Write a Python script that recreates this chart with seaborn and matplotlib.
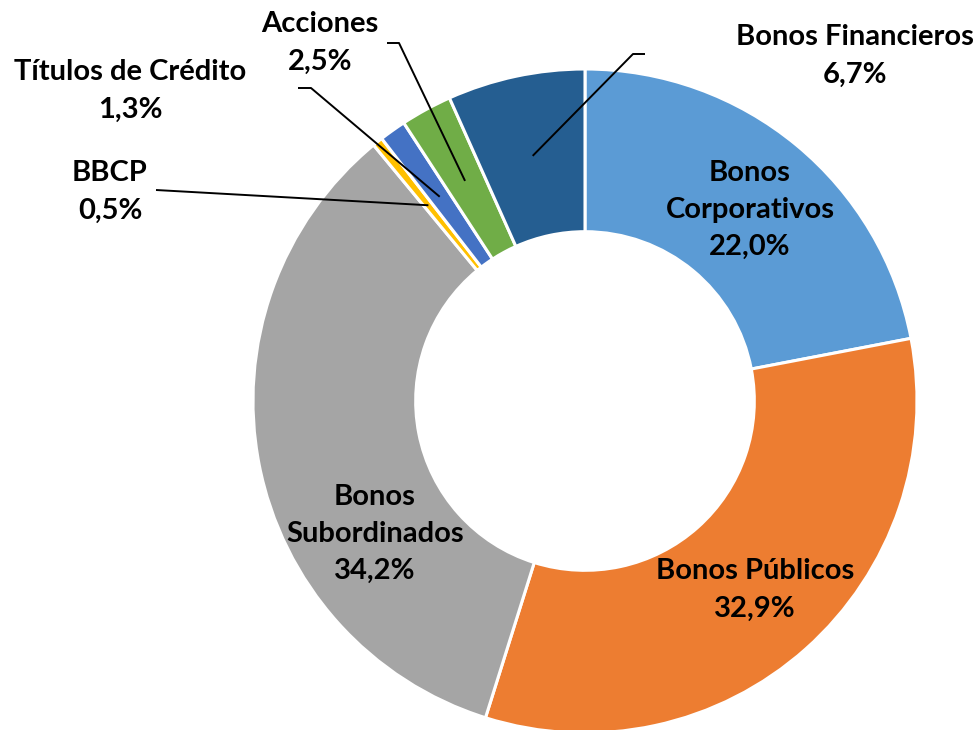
import numpy as np
import matplotlib
matplotlib.use("Agg")
import matplotlib.pyplot as plt
import seaborn as sns

# data (clockwise from 12 o'clock)
categories = ["Bonos\nCorporativos", "Bonos Públicos", "Bonos\nSubordinados", "BBCP",
              "Títulos de Crédito", "Acciones", "Bonos Financieros"]
shares = [22.0, 32.9, 34.2, 0.5, 1.3, 2.5, 6.7]
colors = ["#5B9BD5", "#ED7D31", "#A5A5A5", "#FFC000", "#4472C4", "#70AD47", "#255E91"]

sns.set_theme(style="white")
plt.rcParams["font.family"] = ["Lato", "DejaVu Sans"]

W, H = 980, 730
CX, CY, R = 585, 401, 332


def px(x, y):
    # pixel position -> data units of the pie
    return (x - CX) / R, (CY - y) / R


fig = plt.figure(figsize=(W / 100, H / 100), dpi=100)
ax = fig.add_axes([0, 0, 1, 1])
wedges, _ = ax.pie(shares, colors=colors, startangle=90, counterclock=False,
                   radius=1, wedgeprops=dict(width=0.49, edgecolor="white", linewidth=2.2))
ax.set_xlim(px(0, 0)[0], px(W, 0)[0])
ax.set_ylim(px(0, H)[1], px(0, 0)[1])
ax.set_aspect("equal")
ax.axis("off")

fs = 21
txt = dict(ha="center", va="center", fontsize=fs, fontweight="bold",
           linespacing=1.54, color="black")

# inside labels
inside = {0: (750, 210), 1: (755, 590), 2: (375, 534)}
for i, (x, y) in inside.items():
    ax.text(*px(x, y), f"{categories[i]}\n{shares[i]:.1f}%".replace(".", ","), **txt)

# outside labels with leader lines: text centre, elbow, elbow end
outside = {
    6: ((855, 56), (633, 54), (645, 54)),
    5: ((320, 43), (399, 43), (387, 43)),
    4: ((130, 91), (311, 88), (298, 88)),
    3: ((110, 192), (156, 190), (156, 190)),
}
for i, (tpos, elbow, end) in outside.items():
    w = wedges[i]
    ang = np.deg2rad((w.theta1 + w.theta2) / 2)
    ax0, ay0 = 0.755 * np.cos(ang), 0.755 * np.sin(ang)
    ex, ey = px(*elbow)
    fx, fy = px(*end)
    ax.plot([ax0, ex, fx], [ay0, ey, fy], color="black", lw=1.4, solid_capstyle="butt")
    ax.text(*px(*tpos), f"{categories[i]}\n{shares[i]:.1f}%".replace(".", ","), **txt)

fig.savefig("out.png", dpi=100)
